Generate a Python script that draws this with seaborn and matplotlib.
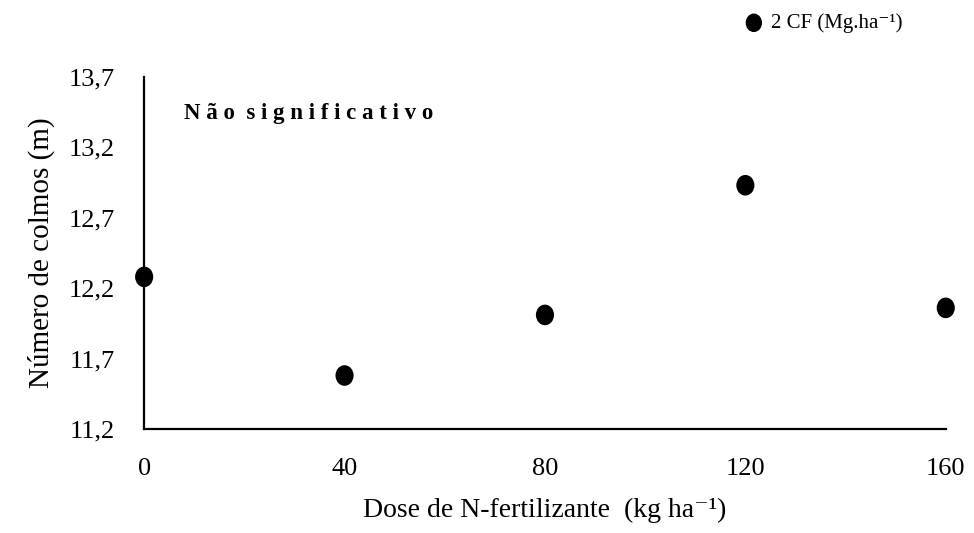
import numpy as np
import pandas as pd
import seaborn as sns
from matplotlib import pyplot as plt
from matplotlib.path import Path

# data
doses = [0, 40, 80, 120, 160]
colmos = [12.28, 11.58, 12.01, 12.93, 12.06]
y_ticks = [11.2, 11.7, 12.2, 12.7, 13.2, 13.7]
series_label = "2 CF (Mg.ha\u207b\u00b9)"
note = "Não significativo"

df = pd.DataFrame({"dose": doses, "colmos": colmos})

sns.set_theme(style="white")
plt.rcParams['font.family'] = ['Liberation Serif', 'DejaVu Serif']
plt.rcParams['text.color'] = 'black'
plt.rcParams['axes.labelcolor'] = 'black'
plt.rcParams['xtick.color'] = 'black'
plt.rcParams['ytick.color'] = 'black'

# slightly tall ellipse like the stretched original markers
circle = Path.unit_circle()
ellipse = Path(circle.vertices * np.array([0.88, 1.0]), circle.codes)

fig = plt.figure(figsize=(9.74, 5.33), dpi=100)
ax = fig.add_axes([0.148, 0.195, 0.823, 0.661])

sns.scatterplot(data=df, x="dose", y="colmos", ax=ax, color="black",
                marker=ellipse, s=220, edgecolor="none", label=series_label,
                clip_on=False, zorder=5)

ax.set_xlim(0, 160)
ax.set_ylim(11.2, 13.7)
ax.set_xticks(doses)
ax.set_xticklabels([str(d) for d in doses], fontsize=19)
ax.set_yticks(y_ticks)
ax.set_yticklabels([f"{t:.1f}".replace(".", ",") for t in y_ticks], fontsize=19)
ax.tick_params(axis="both", length=0)
ax.tick_params(axis="x", pad=21)
ax.tick_params(axis="y", pad=21)

for side in ["top", "right"]:
    ax.spines[side].set_visible(False)
for side in ["left", "bottom"]:
    ax.spines[side].set_color("black")
    ax.spines[side].set_linewidth(1.6)

ax.set_xlabel("Dose de N-fertilizante  (kg ha\u207b\u00b9)", fontsize=20, labelpad=13)
ax.set_ylabel("Número de colmos (m)", fontsize=21, labelpad=10)

spaced = "  ".join(" ".join(w) for w in note.split())
ax.text(0.05, 0.895, spaced, transform=ax.transAxes, fontsize=16.5,
        fontweight="bold", ha="left", va="center")

ax.legend(loc="upper right", bbox_to_anchor=(0.94, 1.0), bbox_transform=fig.transFigure,
          frameon=False, fontsize=15, markerscale=0.9, handletextpad=-0.2,
          borderaxespad=0.25)

fig.savefig("out.png", dpi=100)
